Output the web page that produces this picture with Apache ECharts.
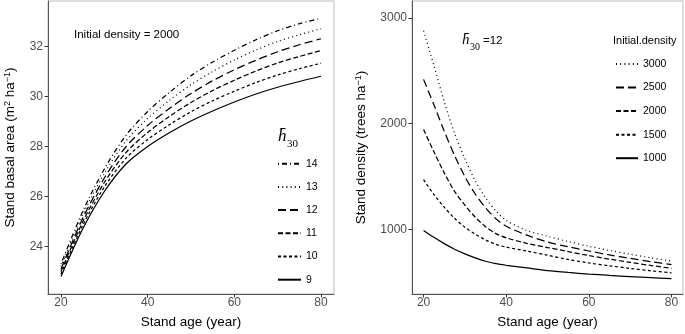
<!DOCTYPE html>
<html><head><meta charset="utf-8">
<script src="https://cdn.jsdelivr.net/npm/echarts@6/dist/echarts.min.js"></script>
<style>html,body{margin:0;padding:0;background:#fff}#c{width:685px;height:334px}</style>
</head><body><div id="c"></div>
<script>
// Left panel: stand basal area vs age, by mean height at 30 (h30)
const agesL = [20,25,30,35,40,45,50,55,60,65,70,75,80];
const ba9  = [22.80,24.70,26.20,27.30,28.00,28.55,29.02,29.42,29.78,30.10,30.37,30.60,30.81];
const ba10 = [22.90,24.84,26.38,27.53,28.28,28.87,29.39,29.83,30.21,30.56,30.86,31.11,31.33];
const ba11 = [23.00,24.98,26.56,27.76,28.56,29.20,29.76,30.24,30.65,31.02,31.34,31.60,31.84];
const ba12 = [23.10,25.12,26.74,27.99,28.84,29.52,30.12,30.63,31.07,31.45,31.79,32.07,32.31];
const ba13 = [23.20,25.26,26.92,28.22,29.12,29.84,30.47,31.00,31.46,31.86,32.20,32.47,32.71];
const ba14 = [23.30,25.40,27.10,28.45,29.40,30.16,30.83,31.38,31.85,32.27,32.63,32.91,33.13];
const h30Names = ['14','13','12','11','10','9'];

// Right panel: stand density vs age, by initial density
const agesR = [20,22.5,25,27.5,30,32.5,35,37.5,40,45,50,55,60,65,70,75,80];
const n3000 = [2880,2550,2210,1910,1670,1460,1300,1175,1085,990,935,885,840,800,765,730,700];
const n2500 = [2420,2180,1930,1700,1500,1335,1205,1100,1030,945,880,835,795,758,725,695,666];
const n2000 = [1945,1735,1535,1360,1230,1115,1025,960,920,868,828,790,752,718,688,658,631];
const n1500 = [1470,1330,1210,1105,1020,955,900,858,832,795,755,715,682,655,630,608,588];
const n1000 = [990,925,865,812,768,730,698,675,660,635,610,592,577,564,553,543,533];
const densNames = ['3000','2500','2000','1500','1000'];

const xTicks = [20,40,60,80];
const yTicksL = [24,26,28,30,32];
const yTicksR = [1000,2000,3000];

const FONT = 'Liberation Sans, Arial, sans-serif';
const pairs = (xs, ys) => xs.map((x, i) => [x, ys[i]]);

const dashes = {
  '9':'solid','10':[3,2.5],'11':[5,2.5],'12':[8,4],'13':[1,3.2],'14':[1,3,5,3],
  '1000':'solid','1500':[3,2.5],'2000':[5,2.5],'2500':[8,4],'3000':[1,3.2]
};
function mk(name, xs, ys, idx) {
  return {
    name: name, type: 'line', xAxisIndex: idx, yAxisIndex: idx,
    data: pairs(xs, ys), smooth: 0.3, symbol: 'none', symbolSize: 0, showSymbol: false,
    lineStyle: { color: '#000', width: 1.25, type: dashes[name] },
    itemStyle: { color: '#000' }, silent: true, animation: false
  };
}

const axisCommon = {
  axisLine: { show: true, lineStyle: { color: '#555', width: 1 } },
  axisTick: { show: true, length: 3.5, lineStyle: { color: '#333', width: 1 } },
  splitLine: { show: false },
  axisLabel: { color: '#4d4d4d', fontSize: 12, fontFamily: FONT, formatter: v => String(v) },
  nameTextStyle: { color: '#000', fontSize: 13.5, fontFamily: FONT }
};
function xAx(grid, min, max) {
  return Object.assign({}, axisCommon, {
    type: 'value', gridIndex: grid, min: min, max: max,
    name: 'Stand age (year)', nameLocation: 'middle', nameGap: 21,
    axisTick: Object.assign({}, axisCommon.axisTick, { customValues: xTicks }),
    axisLabel: Object.assign({}, axisCommon.axisLabel, { customValues: xTicks, margin: 3 })
  });
}
function yAx(grid, min, max, ticks, name, gap) {
  return Object.assign({}, axisCommon, {
    type: 'value', gridIndex: grid, min: min, max: max,
    name: name, nameLocation: 'middle', nameGap: gap,
    nameTextStyle: Object.assign({}, axisCommon.nameTextStyle, {
      rich: {
        n: { fontSize: 13.5, fontFamily: FONT, color: '#000' },
        s: { fontSize: 9, fontFamily: FONT, color: '#000', verticalAlign: 'top', lineHeight: 12 }
      }
    }),
    axisTick: Object.assign({}, axisCommon.axisTick, { customValues: ticks }),
    axisLabel: Object.assign({}, axisCommon.axisLabel, { customValues: ticks, margin: 5 })
  });
}

const series = [
  mk('14', agesL, ba14, 0), mk('13', agesL, ba13, 0), mk('12', agesL, ba12, 0),
  mk('11', agesL, ba11, 0), mk('10', agesL, ba10, 0), mk('9', agesL, ba9, 0),
  mk('3000', agesR, n3000, 1), mk('2500', agesR, n2500, 1), mk('2000', agesR, n2000, 1),
  mk('1500', agesR, n1500, 1), mk('1000', agesR, n1000, 1)
];

const legendText = { fontSize: 10.5, color: '#000', fontFamily: FONT };
const chart = echarts.init(document.getElementById('c'), null, { renderer: 'canvas' });
chart.setOption({
  backgroundColor: '#fff',
  animation: false,
  grid: [
    { left: 48, top: 1, width: 286, height: 296, show: true, borderColor: '#bdbdbd', borderWidth: 1 },
    { left: 412, top: 1, width: 271, height: 296, show: true, borderColor: '#bdbdbd', borderWidth: 1 }
  ],
  xAxis: [ xAx(0, 17, 83), xAx(1, 17.2, 82.8) ],
  yAxis: [
    yAx(0, 22.1, 33.82, yTicksL, '{n|Stand basal area (m}{s|2}{n| ha}{s|−1}{n|)}', 31),
    yAx(1, 388, 3162, yTicksR, '{n|Stand density (trees ha}{s|−1}{n|)}', 44)
  ],
  legend: [
    { data: h30Names, orient: 'vertical', left: 277, top: 158.2, itemWidth: 23, itemHeight: 12,
      itemGap: 12.2, textStyle: legendText, selectedMode: false, padding: 0,
      itemStyle: { opacity: 0 } },
    { data: densNames, orient: 'vertical', left: 615, top: 58.5, itemWidth: 22, itemHeight: 12,
      itemGap: 12.55, textStyle: legendText, selectedMode: false, padding: 0,
      itemStyle: { opacity: 0 } }
  ],
  graphic: [
    { type: 'text', left: 74, top: 29, style: { text: 'Initial density = 2000', fontSize: 11.5, fontFamily: FONT, fill: '#000' } },
    { type: 'text', left: 278, top: 128, style: { text: 'h\u0304', fontSize: 17, fontStyle: 'italic', fontFamily: 'Liberation Serif, DejaVu Serif, serif', fill: '#000' } },
    { type: 'text', left: 287, top: 139, style: { text: '30', fontSize: 11, fontFamily: 'Liberation Serif, DejaVu Serif, serif', fill: '#000' } },
    { type: 'text', left: 462, top: 33, style: { text: 'h\u0304', fontSize: 15, fontStyle: 'italic', fontFamily: 'Liberation Serif, DejaVu Serif, serif', fill: '#000' } },
    { type: 'text', left: 470, top: 42, style: { text: '30', fontSize: 10, fontFamily: 'Liberation Serif, DejaVu Serif, serif', fill: '#000' } },
    { type: 'text', left: 483, top: 35, style: { text: '=12', fontSize: 11.5, fontFamily: FONT, fill: '#000' } },
    { type: 'text', left: 613, top: 35, style: { text: 'Initial.density', fontSize: 11, fontFamily: FONT, fill: '#000' } }
  ],
  series: series
});
</script></body></html>
